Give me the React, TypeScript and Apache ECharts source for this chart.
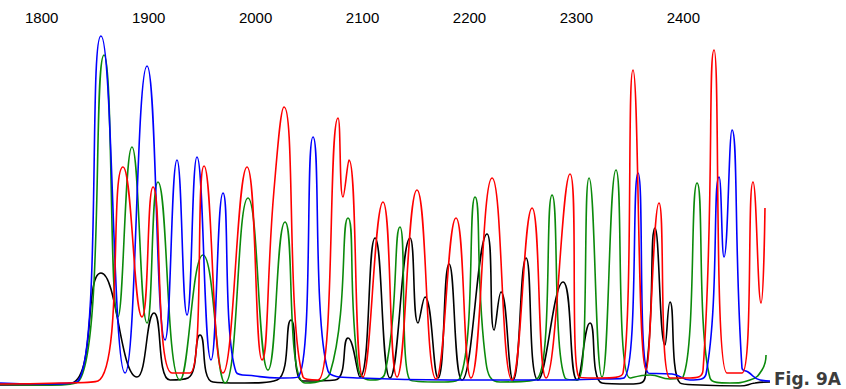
import React, { useEffect, useRef } from "react";
import * as echarts from "echarts";

const xTicks = [1800, 1900, 2000, 2100, 2200, 2300, 2400];

// [scan position, signal] pairs (apexes and valleys)
const blueTrace = [
  [1761, 3], [1798.4, 2], [1833.9, 5], [1855.4, 350], [1877.9, 13], [1898.5, 320],
  [1915.3, 46], [1926.5, 226], [1935.9, 71], [1945.2, 229], [1958.3, 26], [1969.5, 193],
  [1981.7, 14], [1999.5, 10], [2022.8, 8], [2039.7, 9], [2053.7, 249], [2067.7, 15],
  [2097.6, 8], [2181.8, 6], [2275.3, 6], [2322.1, 7], [2344.5, 8], [2357.6, 213],
  [2367, 13], [2389.4, 12], [2406.2, 6], [2421.2, 12], [2433.4, 209], [2438, 129],
  [2445.5, 256], [2454.8, 18], [2460.5, 14], [2471.7, 6], [2481, 5],
];

const greenTrace = [
  [1761, 2], [1798.4, 1], [1833.9, 4], [1858.3, 331], [1871.3, 69], [1884.4, 239],
  [1898.5, 63], [1908.7, 204], [1929.3, 6], [1950.8, 131], [1971.4, 3], [1992.9, 188],
  [2011.6, 16], [2027.5, 164], [2046.2, 3], [2069.6, 13], [2086.4, 168], [2095.8, 19],
  [2107, 6], [2121, 13], [2135, 159], [2144.4, 6], [2172.4, 4], [2191.1, 8],
  [2205.2, 189], [2215.5, 23], [2228.6, 4], [2264.1, 8], [2277.2, 191], [2289.3, 8],
  [2301.5, 6], [2311.8, 208], [2323.9, 9], [2337, 216], [2350.1, 8], [2368.8, 11],
  [2387.5, 7], [2399.7, 9], [2412.8, 203], [2424.9, 8], [2443.6, 3], [2462.3, 6],
  [2473.5, 16], [2477.3, 31],
];

const redTrace = [
  [1761, 2], [1817.1, 3], [1852.6, 5], [1876, 219], [1893.8, 69], [1904.1, 199],
  [1921.8, 13], [1938.7, 13], [1951.8, 220], [1969.5, 13], [1992, 219], [2006, 26],
  [2017.2, 196], [2026.6, 279], [2044.3, 9], [2058.4, 6], [2077.1, 268], [2081.7, 189],
  [2087.3, 226], [2100.4, 9], [2119.1, 184], [2132.2, 9], [2150.9, 196], [2168.7, 7],
  [2187.4, 168], [2201.4, 8], [2221.1, 208], [2239.8, 6], [2258.5, 178], [2271.6, 8],
  [2294, 212], [2302.4, 9], [2322.1, 8], [2343.6, 13], [2352.9, 316], [2365.1, 16],
  [2377.2, 183], [2387.5, 8], [2406.2, 8], [2418.4, 16], [2428.7, 336], [2440.8, 13],
  [2454.8, 13], [2465.1, 204], [2472.6, 83], [2476.3, 178],
];

const blackTrace = [
  [1761, 1], [1798.4, 1], [1828.3, 3], [1855.4, 113], [1889.1, 9], [1905, 73],
  [1920, 6], [1936.8, 8], [1948, 51], [1960.2, 4], [1985.4, 3], [2020, 6],
  [2033.1, 66], [2044.3, 5], [2074.3, 6], [2086.4, 48], [2097.6, 9], [2111.7, 148],
  [2125.7, 8], [2144.4, 148], [2151.9, 63], [2158.4, 89], [2170.6, 8], [2180.9, 122],
  [2193, 6], [2216.4, 152], [2223, 56], [2229.5, 94], [2240.7, 6], [2252.9, 128],
  [2264.1, 6], [2287.5, 104], [2300.6, 6], [2312.7, 63], [2323.9, 3], [2350.1, 2],
  [2364.1, 8], [2373.5, 158], [2382.8, 41], [2387.5, 84], [2396.9, 3], [2415.6, 1],
  [2453, 0], [2467, 3], [2481, 4],
];

const traces = [
  { name: "T", data: blackTrace, color: "#000000" },
  { name: "G", data: greenTrace, color: "#0b8a0b" },
  { name: "C", data: blueTrace, color: "#0000ff" },
  { name: "A", data: redTrace, color: "#ff0000" },
];

const figLabel = "Fig. 9A";

export default function App() {
  const ref = useRef<HTMLDivElement>(null);
  useEffect(() => {
    if (!ref.current) return;
    const chart = echarts.init(ref.current, null, { renderer: "svg" });
    chart.setOption({
      animation: false,
      backgroundColor: "#ffffff",
      grid: { left: 0, right: 76, top: 30, bottom: 3 },
      xAxis: {
        type: "value",
        position: "top",
        min: 1761,
        max: 2481,
        axisLine: { show: false },
        axisTick: { show: false },
        splitLine: { show: false },
        axisLabel: {
          customValues: xTicks,
          formatter: (v: number) => String(v),
          margin: 5,
          fontSize: 15,
          fontFamily: "'Liberation Sans', Arial, sans-serif",
          color: "#000000",
        },
      },
      yAxis: { type: "value", min: 0, max: 356, show: false },
      series: traces.map((t) => ({
        type: "line",
        name: t.name,
        data: t.data,
        showSymbol: false,
        symbol: "none",
        smooth: 0.5,
        lineStyle: { color: t.color, width: 1.6 },
        itemStyle: { color: t.color },
      })),
      graphic: [
        {
          type: "text",
          x: 774,
          y: 379,
          style: {
            text: figLabel,
            fontFamily: "'DejaVu Sans', Verdana, sans-serif",
            fontWeight: "bold",
            fontSize: 17,
            fill: "#3c3c3c",
            verticalAlign: "middle",
          },
        },
      ],
    });
    return () => chart.dispose();
  }, []);
  return (
    <div
      ref={ref}
      style={{ position: "absolute", left: 0, top: 0, width: 846, height: 389 }}
    />
  );
}
